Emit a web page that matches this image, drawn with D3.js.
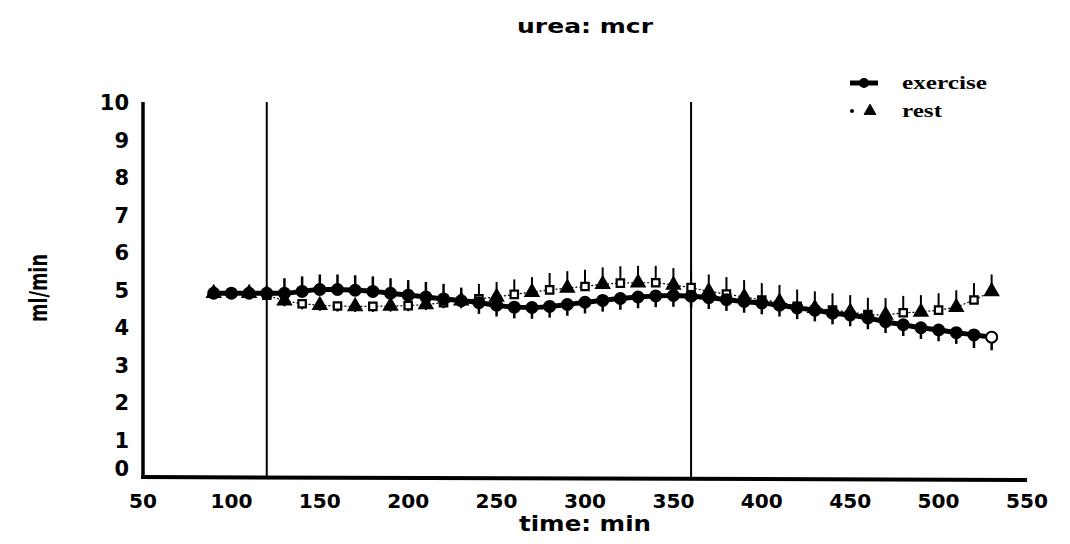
<!DOCTYPE html>
<html><head><meta charset="utf-8">
<script src="https://cdn.jsdelivr.net/npm/d3@7"></script>
<style>body{margin:0;background:#fff;} svg{display:block;}</style>
</head><body>
<script>
const title = "urea: mcr";
const xLabel = "time: min";
const yLabel = "ml/min";
const xTicks = [50,100,150,200,250,300,350,400,450,500,550];
const yTicks = [0,1,2,3,4,5,6,7,8,9,10];
const markerLines = [120, 360];
const seriesNames = ["exercise", "rest"];
const time = [90,100,110,120,130,140,150,160,170,180,190,200,210,220,230,240,250,260,270,280,290,300,310,320,330,340,350,360,370,380,390,400,410,420,430,440,450,460,470,480,490,500,510,520,530];
const exercise = [4.9,4.9,4.9,4.9,4.9,4.95,5.0,5.0,4.98,4.95,4.9,4.85,4.8,4.75,4.7,4.65,4.58,4.53,4.52,4.55,4.6,4.66,4.71,4.76,4.8,4.83,4.84,4.82,4.78,4.73,4.68,4.64,4.58,4.51,4.45,4.37,4.32,4.24,4.14,4.06,3.98,3.92,3.85,3.79,3.73];
const rest = [4.9,4.9,4.9,4.85,4.7,4.62,4.58,4.56,4.55,4.55,4.56,4.57,4.6,4.65,4.7,4.75,4.8,4.87,4.93,4.99,5.04,5.08,5.14,5.17,5.18,5.18,5.12,5.05,4.95,4.88,4.8,4.72,4.67,4.55,4.5,4.45,4.4,4.33,4.32,4.38,4.4,4.45,4.53,4.72,4.95];
const seExercise = [0.1,0.1,0.1,0.2,0.4,0.4,0.4,0.4,0.4,0.4,0.4,0.4,0.4,0.4,0.35,0.3,0.3,0.3,0.3,0.3,0.3,0.3,0.3,0.3,0.3,0.3,0.3,0.3,0.3,0.3,0.3,0.3,0.3,0.3,0.3,0.3,0.3,0.3,0.3,0.3,0.3,0.3,0.3,0.35,0.35];
const seRest = [0.1,0.1,0.1,0.1,0.15,0.15,0.15,0.15,0.15,0.15,0.15,0.15,0.15,0.15,0.2,0.4,0.4,0.4,0.4,0.45,0.45,0.45,0.45,0.45,0.45,0.45,0.45,0.45,0.45,0.45,0.45,0.45,0.45,0.45,0.45,0.45,0.45,0.45,0.45,0.45,0.45,0.45,0.45,0.45,0.45];

const W = 1070, H = 544;
const svg = d3.select("body").append("svg").attr("width", W).attr("height", H);
const x = d3.scaleLinear().domain([50,550]).range([143,1027]);
const y = d3.scaleLinear().domain([0,10]).range([477,102]);
const sans = "'DejaVu Sans', sans-serif";
const serif = "'Liberation Serif', serif";

// title
svg.append("text").attr("x",585).attr("y",33).attr("text-anchor","middle")
  .attr("font-family",sans).attr("font-weight","bold").attr("font-size",20)
  .attr("textLength",136).attr("lengthAdjust","spacingAndGlyphs").text(title);

// axes lines
svg.append("line").attr("x1",x(50)).attr("x2",x(50)).attr("y1",y(10)).attr("y2",y(0)+2)
  .attr("stroke","#000").attr("stroke-width",3.5);
svg.append("line").attr("x1",x(50)-2).attr("x2",x(550)).attr("y1",y(0)).attr("y2",y(0)+3)
  .attr("stroke","#000").attr("stroke-width",4);

// y tick labels
svg.append("g").selectAll("text").data(yTicks).join("text")
  .attr("x",129).attr("y",d => d===0 ? y(d)-1 : y(d)+8).attr("text-anchor","end")
  .attr("font-family",sans).attr("font-weight","bold").attr("font-size",21)
  .text(d => d);
// x tick labels
svg.append("g").selectAll("text").data(xTicks).join("text")
  .attr("x",d => x(d)).attr("y",508).attr("text-anchor","middle")
  .attr("font-family",sans).attr("font-weight","bold").attr("font-size",20)
  .attr("textLength", d => String(d).length===2 ? 28 : 42).attr("lengthAdjust","spacingAndGlyphs")
  .text(d => d);

// axis titles
svg.append("text").attr("x",585).attr("y",531).attr("text-anchor","middle")
  .attr("font-family",sans).attr("font-weight","bold").attr("font-size",22)
  .attr("textLength",132).attr("lengthAdjust","spacingAndGlyphs").text(xLabel);
svg.append("text").attr("transform","translate(47,288) rotate(-90)").attr("text-anchor","middle")
  .attr("font-family",sans).attr("font-weight","bold").attr("font-size",24)
  .attr("textLength",68).attr("lengthAdjust","spacingAndGlyphs").text(yLabel);

// vertical marker lines
svg.append("g").selectAll("line").data(markerLines).join("line")
  .attr("x1",d => x(d)).attr("x2",d => x(d)).attr("y1",y(10)).attr("y2",y(0))
  .attr("stroke","#000").attr("stroke-width",2);

const idx = d3.range(time.length);

// error bars: upper series goes up, lower goes down
svg.append("g").selectAll("line").data(idx).join("line")
  .attr("x1",i => x(time[i])).attr("x2",i => x(time[i]))
  .attr("y1",i => y(rest[i]))
  .attr("y2",i => rest[i] > exercise[i] ? y(rest[i] + seRest[i]) : y(rest[i] - seRest[i]))
  .attr("stroke","#000").attr("stroke-width",2);
svg.append("g").selectAll("line").data(idx).join("line")
  .attr("x1",i => x(time[i])).attr("x2",i => x(time[i]))
  .attr("y1",i => y(exercise[i]))
  .attr("y2",i => exercise[i] >= rest[i] ? y(exercise[i] + seExercise[i]) : y(exercise[i] - seExercise[i]))
  .attr("stroke","#000").attr("stroke-width",2.5);

// rest line (thin dotted)
svg.append("path").datum(idx)
  .attr("d", d3.line().x(i => x(time[i])).y(i => y(rest[i])))
  .attr("fill","none").attr("stroke","#000").attr("stroke-width",1.2).attr("stroke-dasharray","2,2");

// exercise line (thick)
svg.append("path").datum(idx)
  .attr("d", d3.line().curve(d3.curveMonotoneX).x(i => x(time[i])).y(i => y(exercise[i])))
  .attr("fill","none").attr("stroke","#000").attr("stroke-width",5);

// rest markers: alternating filled triangle / open square
const tri = d3.symbol().type(d3.symbolTriangle).size(70);
const sq = d3.symbol().type(d3.symbolSquare).size(55);
svg.append("g").selectAll("path").data(idx).join("path")
  .attr("transform",i => `translate(${x(time[i])},${y(rest[i])})`)
  .attr("d",i => i%2 ? sq() : tri())
  .attr("fill",i => i%2 ? "#fff" : "#000")
  .attr("stroke","#000").attr("stroke-width",2.2);

// exercise markers
svg.append("g").selectAll("circle").data(idx).join("circle")
  .attr("cx",i => x(time[i])).attr("cy",i => y(exercise[i])).attr("r",5.5)
  .attr("fill",i => i===time.length-1 ? "#fff" : "#000").attr("stroke","#000").attr("stroke-width",2);

// legend
const lg = svg.append("g");
lg.append("line").attr("x1",850).attr("x2",878).attr("y1",83).attr("y2",83).attr("stroke","#000").attr("stroke-width",5);
lg.append("circle").attr("cx",864).attr("cy",83).attr("r",5).attr("fill","#000");
lg.append("circle").attr("cx",852).attr("cy",111).attr("r",2).attr("fill","#000");
lg.append("path").attr("transform","translate(870,111)").attr("d",d3.symbol().type(d3.symbolTriangle).size(60)()).attr("fill","#000").attr("stroke","#000");
lg.append("text").attr("x",902).attr("y",89).attr("font-family",serif).attr("font-weight","bold").attr("font-size",18)
  .attr("textLength",85).attr("lengthAdjust","spacingAndGlyphs").text(seriesNames[0]);
lg.append("text").attr("x",902).attr("y",117).attr("font-family",serif).attr("font-weight","bold").attr("font-size",18)
  .attr("textLength",40).attr("lengthAdjust","spacingAndGlyphs").text(seriesNames[1]);
</script>
</body></html>
